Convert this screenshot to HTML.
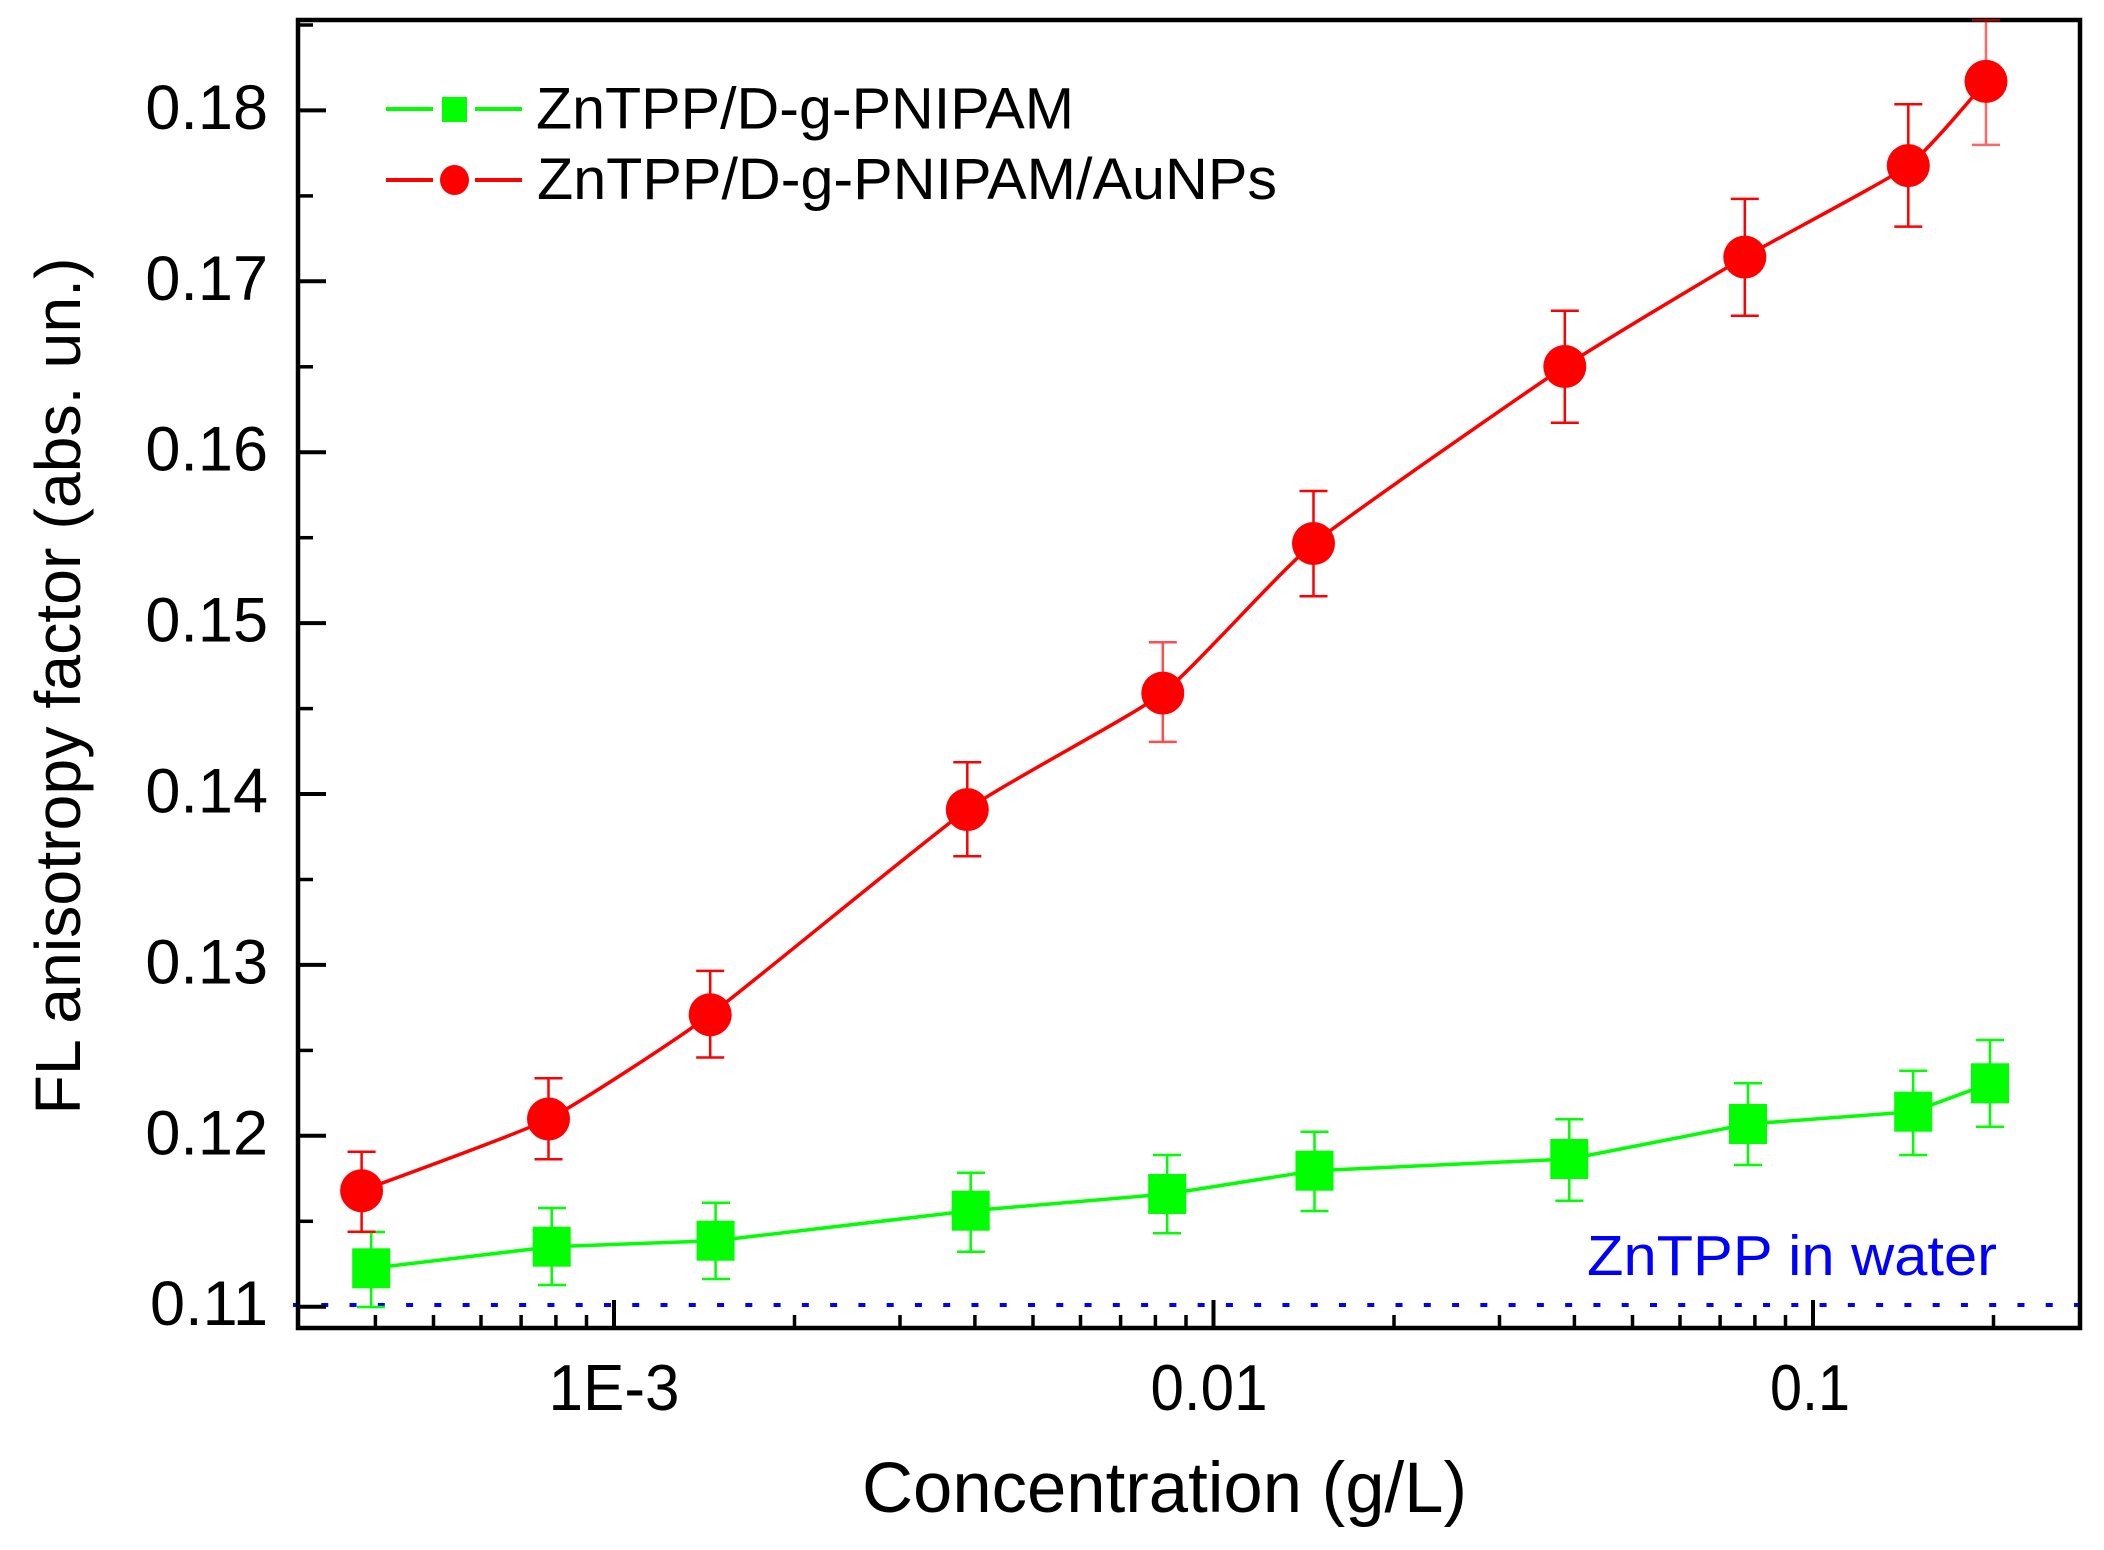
<!DOCTYPE html>
<html>
<head>
<meta charset="utf-8">
<style>
html,body{margin:0;padding:0;background:#fff;}
svg{display:block;}
text{font-family:"Liberation Sans",Arial,sans-serif;}
</style>
</head>
<body>
<svg width="2104" height="1550" viewBox="0 0 2104 1550" xmlns="http://www.w3.org/2000/svg">
<rect x="0" y="0" width="2104" height="1550" fill="#fff"/>

<!-- blue dotted reference line -->
<line x1="293" y1="1305" x2="2080" y2="1305" stroke="#0000ff" stroke-width="4" stroke-dasharray="7 21.27"/>

<!-- frame -->
<rect x="298" y="20" width="1782" height="1308" fill="none" stroke="#000" stroke-width="4.5"/>

<!-- left ticks -->
<g stroke="#000" stroke-width="4">
<line x1="298" y1="1306.7" x2="326" y2="1306.7"/>
<line x1="298" y1="1135.8" x2="326" y2="1135.8"/>
<line x1="298" y1="964.9" x2="326" y2="964.9"/>
<line x1="298" y1="794.0" x2="326" y2="794.0"/>
<line x1="298" y1="623.1" x2="326" y2="623.1"/>
<line x1="298" y1="452.2" x2="326" y2="452.2"/>
<line x1="298" y1="281.3" x2="326" y2="281.3"/>
<line x1="298" y1="110.4" x2="326" y2="110.4"/>
</g>
<g stroke="#000" stroke-width="3.5">
<line x1="298" y1="1221.3" x2="313" y2="1221.3"/>
<line x1="298" y1="1050.4" x2="313" y2="1050.4"/>
<line x1="298" y1="879.5" x2="313" y2="879.5"/>
<line x1="298" y1="708.6" x2="313" y2="708.6"/>
<line x1="298" y1="537.7" x2="313" y2="537.7"/>
<line x1="298" y1="366.8" x2="313" y2="366.8"/>
<line x1="298" y1="195.9" x2="313" y2="195.9"/>
<line x1="298" y1="25" x2="313" y2="25"/>
</g>

<!-- bottom ticks -->
<g stroke="#000" stroke-width="4">
<line x1="614" y1="1328" x2="614" y2="1300"/>
<line x1="1213.5" y1="1328" x2="1213.5" y2="1300"/>
<line x1="1813" y1="1328" x2="1813" y2="1300"/>
</g>
<g stroke="#000" stroke-width="3.5">
<line x1="375.4" y1="1328" x2="375.4" y2="1315"/>
<line x1="433.5" y1="1328" x2="433.5" y2="1315"/>
<line x1="481" y1="1328" x2="481" y2="1315"/>
<line x1="521.1" y1="1328" x2="521.1" y2="1315"/>
<line x1="555.9" y1="1328" x2="555.9" y2="1315"/>
<line x1="586.5" y1="1328" x2="586.5" y2="1315"/>
<line x1="794.5" y1="1328" x2="794.5" y2="1315"/>
<line x1="900" y1="1328" x2="900" y2="1315"/>
<line x1="974.9" y1="1328" x2="974.9" y2="1315"/>
<line x1="1033" y1="1328" x2="1033" y2="1315"/>
<line x1="1080.5" y1="1328" x2="1080.5" y2="1315"/>
<line x1="1120.6" y1="1328" x2="1120.6" y2="1315"/>
<line x1="1155.4" y1="1328" x2="1155.4" y2="1315"/>
<line x1="1186" y1="1328" x2="1186" y2="1315"/>
<line x1="1394" y1="1328" x2="1394" y2="1315"/>
<line x1="1499.5" y1="1328" x2="1499.5" y2="1315"/>
<line x1="1574.4" y1="1328" x2="1574.4" y2="1315"/>
<line x1="1632.5" y1="1328" x2="1632.5" y2="1315"/>
<line x1="1680" y1="1328" x2="1680" y2="1315"/>
<line x1="1720.1" y1="1328" x2="1720.1" y2="1315"/>
<line x1="1754.9" y1="1328" x2="1754.9" y2="1315"/>
<line x1="1785.5" y1="1328" x2="1785.5" y2="1315"/>
<line x1="1993.5" y1="1328" x2="1993.5" y2="1315"/>
</g>

<!-- y tick labels -->
<g font-size="63" fill="#000" text-anchor="end">
<text x="268" y="1325">0.11</text>
<text x="268" y="1154.3">0.12</text>
<text x="268" y="983.4">0.13</text>
<text x="268" y="812.5">0.14</text>
<text x="268" y="641.6">0.15</text>
<text x="268" y="470.7">0.16</text>
<text x="268" y="299.8">0.17</text>
<text x="268" y="128.9">0.18</text>
</g>

<!-- x tick labels -->
<g font-size="65" fill="#000" text-anchor="middle">
<text x="614" y="1410" textLength="131" lengthAdjust="spacingAndGlyphs">1E-3</text>
<text x="1209" y="1410" textLength="117" lengthAdjust="spacingAndGlyphs">0.01</text>
<text x="1810" y="1410" textLength="80" lengthAdjust="spacingAndGlyphs">0.1</text>
</g>

<!-- axis titles -->
<text x="1164.5" y="1512" font-size="71" text-anchor="middle" textLength="605" lengthAdjust="spacingAndGlyphs" fill="#000">Concentration (g/L)</text>
<text transform="translate(80,686) rotate(-90)" font-size="64" text-anchor="middle" textLength="857" lengthAdjust="spacingAndGlyphs" fill="#000">FL anisotropy factor (abs. un.)</text>

<!-- annotation -->
<text x="1587" y="1275" font-size="57" fill="#0000ff" textLength="410" lengthAdjust="spacingAndGlyphs">ZnTPP in water</text>

<!-- green error bars -->
<g stroke="#00ff00" stroke-width="2.5">
<path d="M371.2 1232V1307M357 1232h28M357 1307h28"/>
<path d="M551.7 1208V1285M538 1208h28M538 1285h28"/>
<path d="M715.6 1202.7V1279M702 1202.7h28M702 1279h28"/>
<path d="M970.7 1172.7V1251.7M957 1172.7h28M957 1251.7h28"/>
<path d="M1167.2 1155V1233.3M1153 1155h28M1153 1233.3h28"/>
<path d="M1314.5 1131.7V1211M1300.5 1131.7h28M1300.5 1211h28"/>
<path d="M1569.3 1119.3V1200.7M1555.3 1119.3h28M1555.3 1200.7h28"/>
<path d="M1748 1083.3V1165M1734 1083.3h28M1734 1165h28"/>
<path d="M1913.2 1070.7V1155M1899.2 1070.7h28M1899.2 1155h28"/>
<path d="M1990 1040V1126.7M1976 1040h28M1976 1126.7h28"/>
</g>

<!-- red error bars -->
<g stroke="#ff0000" stroke-width="2.5">
<path d="M361.6 1151.7V1231.7M347.6 1151.7h28M347.6 1231.7h28"/>
<path d="M548.5 1078.3V1159.3M534.5 1078.3h28M534.5 1159.3h28"/>
<path d="M710.2 970.9V1057.5M696.2 970.9h28M696.2 1057.5h28"/>
<path d="M967.3 762.2V856.2M953.3 762.2h28M953.3 856.2h28"/>
<path d="M1162.8 642.2V741.9M1148.8 642.2h28M1148.8 741.9h28" stroke-opacity="0.7"/>
<path d="M1313.5 491V596.3M1299.5 491h28M1299.5 596.3h28"/>
<path d="M1564.8 310.8V422.7M1550.8 310.8h28M1550.8 422.7h28"/>
<path d="M1744.8 198.9V315.7M1730.8 198.9h28M1730.8 315.7h28"/>
<path d="M1908.3 104.2V226.6M1894.3 104.2h28M1894.3 226.6h28"/>
<path d="M1986 20.3V144.9M1972 20.3h28M1972 144.9h28" stroke-opacity="0.6"/>
</g>

<!-- green line -->
<polyline fill="none" stroke="#00ff00" stroke-width="3.5" points="371.2,1268.3 551.7,1246.7 715.6,1240.7 970.7,1210.7 1167.2,1194 1314.5,1170.7 1569.3,1159 1748,1124 1913.2,1111.7 1990,1083.3"/>

<!-- red line -->
<path fill="none" stroke="#ff0000" stroke-width="3.5" d="M361.6 1190.7 C377.2 1184.7 519.45 1133.67 548.5 1119 C577.55 1104.33 675.3 1040.48 710.2 1014.7 C745.1 988.92 929.58 836.4 967.3 809.6 C1005.02 782.8 1133.95 715.28 1162.8 693.1 C1191.65 670.92 1280 570.72 1313.5 543.5 C1347 516.28 1528.86 390.37 1564.8 366.5 C1600.74 342.63 1716.17 273.84 1744.8 257.1 C1773.43 240.36 1888.2 180.24 1908.3 165.6 C1928.4 150.96 1979.52 88.42 1986 81.4"/>

<!-- green markers -->
<g fill="#00ff00">
<rect x="352.2" y="1248.3" width="38" height="40"/>
<rect x="532.7" y="1226.7" width="38" height="40"/>
<rect x="696.6" y="1220.7" width="38" height="40"/>
<rect x="951.7" y="1190.7" width="38" height="40"/>
<rect x="1148.2" y="1174" width="38" height="40"/>
<rect x="1295.5" y="1150.7" width="38" height="40"/>
<rect x="1550.3" y="1139" width="38" height="40"/>
<rect x="1729" y="1104" width="38" height="40"/>
<rect x="1894.2" y="1091.7" width="38" height="40"/>
<rect x="1971" y="1063.3" width="38" height="40"/>
</g>

<!-- red markers -->
<g fill="#ff0000">
<ellipse cx="361.6" cy="1190.7" rx="21.5" ry="21.5"/>
<ellipse cx="548.5" cy="1119" rx="21.5" ry="21.5"/>
<ellipse cx="710.2" cy="1014.7" rx="21.5" ry="21.5"/>
<ellipse cx="967.3" cy="809.6" rx="21.5" ry="21.5"/>
<ellipse cx="1162.8" cy="693.1" rx="21.5" ry="21.5"/>
<ellipse cx="1313.5" cy="543.5" rx="21.5" ry="21.5"/>
<ellipse cx="1564.8" cy="366.5" rx="21.5" ry="21.5"/>
<ellipse cx="1744.8" cy="257.1" rx="21.5" ry="21.5"/>
<ellipse cx="1908.3" cy="165.6" rx="21.5" ry="21.5"/>
<ellipse cx="1986" cy="81.4" rx="21.5" ry="21.5"/>
</g>

<!-- legend -->
<g stroke-width="4">
<line x1="386" y1="109" x2="433" y2="109" stroke="#00ff00"/>
<line x1="475" y1="109" x2="522" y2="109" stroke="#00ff00"/>
<line x1="386" y1="180" x2="433" y2="180" stroke="#ff0000"/>
<line x1="475" y1="180" x2="522" y2="180" stroke="#ff0000"/>
</g>
<rect x="442" y="97" width="25" height="25" fill="#00ff00"/>
<ellipse cx="454.5" cy="180" rx="14.5" ry="15" fill="#ff0000"/>
<text x="536" y="128.3" font-size="58" fill="#000" textLength="538" lengthAdjust="spacingAndGlyphs">ZnTPP/D-g-PNIPAM</text>
<text x="537" y="198.8" font-size="58" fill="#000" textLength="740" lengthAdjust="spacingAndGlyphs">ZnTPP/D-g-PNIPAM/AuNPs</text>
</svg>
</body>
</html>
